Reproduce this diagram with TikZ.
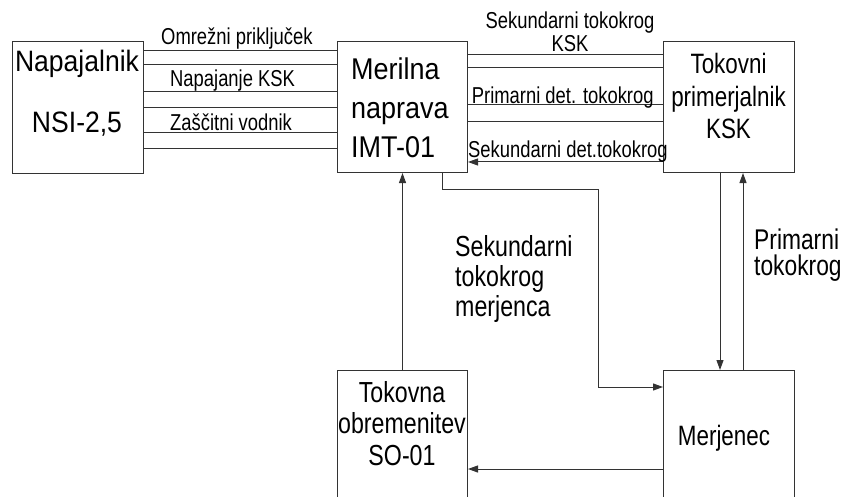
\documentclass[tikz,border=0pt]{standalone}
\usepackage{fontspec}
\setmainfont{Liberation Sans}[FakeStretch=0.8]
\newfontfamily\widefont{Liberation Sans}[FakeStretch=0.9]
\usetikzlibrary{arrows.meta}
\newcommand{\mycl}[1]{\begin{tabular}[t]{@{}c@{}}#1\end{tabular}}
\newcommand{\myll}[1]{\begin{tabular}[t]{@{}l@{}}#1\end{tabular}}
\newcommand{\setfs}[2]{\fontsize{#1}{#2}\selectfont}
\tikzset{
  box/.style={draw=black!80, line width=1pt, inner sep=0pt, anchor=north west},
  wire/.style={draw=black!80, line width=1pt},
  arr/.style={wire, -{Triangle[length=10pt,width=7pt]}},
  txt/.style={inner sep=0pt, text=black},
  small/.style={txt, font=\setfs{23}{28}},
}
\begin{document}
\begin{tikzpicture}[x=1pt,y=-1pt]
\useasboundingbox (0,0) rectangle (845,497);
\clip (0,0) rectangle (845,497);
\fill[white] (0,0) rectangle (845,497);

% boxes
\node[box, minimum width=131pt, minimum height=132pt] (nap) at (12,41) {};
\node[box, minimum width=130pt, minimum height=131pt] (mer) at (337,41) {};
\node[box, minimum width=131pt, minimum height=131pt] (tok) at (663,41) {};
\node[box, minimum width=130pt, minimum height=140pt] (obr) at (337,370) {};
\node[box, minimum width=131pt, minimum height=140pt] (mje) at (663,370) {};

% box texts
\node[txt, anchor=base, font=\widefont\setfs{29.5}{61.3}] (naptxt) at (77,71.7) {\mycl{Napajalnik\\NSI-2,5}};
\node[txt, anchor=base west, font=\widefont\setfs{30}{39}] (mertxt) at (351,80) {\myll{Merilna\\naprava\\IMT-01}};
\node[txt, anchor=base, font=\setfs{28}{32.2}] (toktxt) at (728.5,74) {\mycl{Tokovni\\primerjalnik\\KSK}};
\node[txt, anchor=base, font=\setfs{29}{31.2}] (obrtxt) at (402,402.7) {\mycl{Tokovna\\obremenitev\\SO-01}};
\node[txt, anchor=base, font=\setfs{28}{34}] (mjetxt) at (724,445) {Merjenec};

% wires Napajalnik - Merilna
\foreach \yy in {50.7,65,91.7,107.7,132.7,148.3}
  \draw[wire] (nap.east |- 0,\yy) -- (mer.west |- 0,\yy);
% wires Merilna - Tokovni
\foreach \yy in {55,67.7,105,121.7}
  \draw[wire] (mer.east |- 0,\yy) -- (tok.west |- 0,\yy);
\draw[arr] (tok.west |- 0,162) -- (mer.east |- 0,162);

% lower connectors
\draw[arr] (obr.north) -- (mer.south);
\draw[arr] (mer.south -| 442,0) -- (442,189) -- (598,189) -- (598,387) -- (mje.west |- 0,387);
\draw[arr] (tok.south -| 720,0) -- (mje.north -| 720,0);
\draw[arr] (mje.north -| 743,0) -- (tok.south -| 743,0);
\draw[arr] (mje.west |- 0,469) -- (obr.east |- 0,469);

% labels
\node[small, anchor=base west] (l1) at (161,45) {Omrežni priključek};
\node[small, anchor=base west] (l2) at (170,86.7) {Napajanje KSK};
\node[small, anchor=base west] (l3) at (170,131) {Zaščitni vodnik};
\node[txt, anchor=base, font=\setfs{23}{23.4}] (l4) at (570,28.3) {\mycl{Sekundarni tokokrog\\KSK}};
\node[small, anchor=base west] (l5) at (471.7,103.3) {Primarni det. tokokrog};
\node[small, anchor=base west] (l6) at (468,157.3) {Sekundarni det.tokokrog};
\node[txt, anchor=base west, font=\setfs{29}{30.3}] (l7) at (455,256) {\myll{Sekundarni\\tokokrog\\merjenca}};
\node[txt, anchor=base west, font=\setfs{28.5}{27}] (l8) at (754,249) {\myll{Primarni\\[-2pt]tokokrog}};
\end{tikzpicture}
\end{document}
